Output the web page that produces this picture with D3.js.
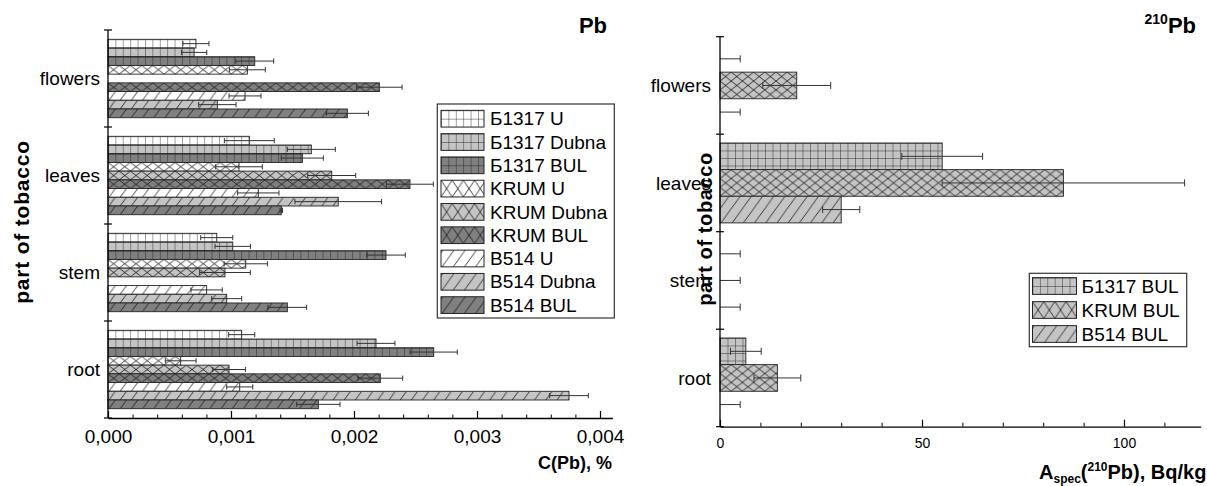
<!DOCTYPE html>
<html>
<head>
<meta charset="utf-8">
<script src="https://cdn.jsdelivr.net/npm/d3@7"></script>
<style>
body { margin:0; background:#fff; }
text { font-family: Arial, "Liberation Sans", sans-serif; fill:#000; }
</style>
</head>
<body>
<svg id="chart" width="1207" height="486"></svg>
<script>
// ---- data ----
var parts = ["flowers","leaves","stem","root"];

var pbSeries = ["Б1317 U","Б1317 Dubna","Б1317 BUL","KRUM U","KRUM Dubna","KRUM BUL","B514 U","B514 Dubna","B514 BUL"];
// C(Pb), %  -> one row per series, columns = flowers, leaves, stem, root (null = no bar)
var pbMean = [
  [0.000715,0.001149,0.000884,0.001087],
  [0.000700,0.001653,0.001014,0.002179],
  [0.001193,0.001580,0.002260,0.002648],
  [0.001133,0.001065,0.001120,0.000591],
  [null,    0.001819,0.000951,0.000984],
  [0.002206,0.002455,null,    0.002214],
  [0.001114,0.001222,0.000802,0.001071],
  [0.000889,0.001872,0.000965,0.003748],
  [0.001946,0.001409,0.001458,0.001710]
];
var pbErr = [
  [0.000106,0.000203,0.000130,0.000106],
  [0.000103,0.000195,0.000144,0.000154],
  [0.000154,0.000171,0.000157,0.000192],
  [0.000146,0.000190,0.000176,0.000125],
  [null,    0.000195,0.000206,0.000133],
  [0.000185,0.000190,null,    0.000182],
  [0.000130,0.000168,0.000127,0.000106],
  [0.000152,0.000352,0.000122,0.000157],
  [0.000171,0.000010,0.000157,0.000176]
];
var pbTicks = [0,0.001,0.002,0.003,0.004];

var actSeries = ["Б1317 BUL","KRUM BUL","B514 BUL"];
// A_spec(210Pb), Bq/kg
var actMean = [
  [0,  55, 0, 6.4],
  [19, 85, 0, 14.2],
  [0,  30, 0, 0]
];
var actErr = [
  [5,   10,  5, 3.8],
  [8.4, 30,  5, 5.8],
  [5,   4.6, 5, 5]
];
var actTicks = [0,50,100];

// ---- styles ----
var pbKind = ["grid","grid","grid","cross","cross","cross","slash","slash","slash"];
var pbTone = ["#ffffff","#c4c4c4","#808080","#ffffff","#c4c4c4","#808080","#ffffff","#c4c4c4","#808080"];
var actKind = ["grid","cross","slash"];
var actTone = "#c4c4c4";

var svg = d3.select("#chart");
var defs = svg.append("defs");

// hatch patterns; origin follows the bar's group so each bar starts clean
function hatch(id, kind, fill, w, h){
  var p = defs.append("pattern").attr("id",id)
    .attr("patternUnits","userSpaceOnUse").attr("width",w).attr("height",h);
  p.append("rect").attr("width",w).attr("height",h).attr("fill",fill);
  var segs = [];
  if(kind=="grid"){
    segs = [[0,0,0,h],[0,0,w,0]];
  } else if(kind=="cross"){
    segs = [[0,0,w,h],[0,h,w,0]];
  } else {
    var run = h*0.72;
    for(var k=-Math.ceil(run/w); k<=1; k++) segs.push([k*w+1,h,k*w+1+run,0]);
  }
  segs.forEach(function(s){
    p.append("line").attr("x1",s[0]).attr("y1",s[1]).attr("x2",s[2]).attr("y2",s[3])
      .attr("stroke","#111").attr("stroke-width",0.8);
  });
  return "url(#"+id+")";
}

function tileW(kind){ return kind=="grid" ? 7.4 : 11.2; }

var comma = d3.formatLocale({decimal:",",thousands:" ",grouping:[3],currency:["",""]}).format(".3f");

// =================== left chart: Pb ===================
var L = {x0:108, x1:612.3, top:30, bottom:418};
var xL = d3.scaleLinear().domain([0,0.0041]).range([L.x0,L.x1]);
var yL = d3.scaleBand().domain(parts).range([L.top,L.bottom]);
var yL1 = d3.scaleBand().domain(d3.range(pbSeries.length)).range([9.3, yL.bandwidth()-9.3]);
var bhL = yL1.bandwidth();

var fillL = pbSeries.map(function(s,i){ return hatch("pl"+i, pbKind[i], pbTone[i], tileW(pbKind[i]), bhL); });
var fillLL = pbSeries.map(function(s,i){
  return hatch("pll"+i, pbKind[i], pbTone[i], tileW(pbKind[i]), pbKind[i]=="grid" ? 8.35 : 16.7);
});

var left = svg.append("g");
var pbBars = [];
pbSeries.forEach(function(s,i){
  parts.forEach(function(p,j){
    if(pbMean[i][j]!=null) pbBars.push({s:i, part:p, v:pbMean[i][j], e:pbErr[i][j]});
  });
});

left.selectAll("g.bar").data(pbBars).enter().append("g").attr("class","bar")
  .attr("transform",function(d){ return "translate("+xL(0)+","+(yL(d.part)+yL1(d.s))+")"; })
  .append("rect")
  .attr("width",function(d){ return xL(d.v)-xL(0); })
  .attr("height",bhL)
  .attr("fill",function(d){ return fillL[d.s]; })
  .attr("stroke","#222").attr("stroke-width",0.9);

function errBars(g, data, x, yOf, cap){
  var e = g.selectAll("g.err").data(data).enter().append("g").attr("class","err")
    .attr("stroke","#333").attr("stroke-width",1);
  e.append("line")
    .attr("x1",function(d){ return x(Math.max(0,d.v-d.e)); })
    .attr("x2",function(d){ return x(d.v+d.e); })
    .attr("y1",yOf).attr("y2",yOf);
  e.append("line")
    .attr("x1",function(d){ return x(d.v+d.e); }).attr("x2",function(d){ return x(d.v+d.e); })
    .attr("y1",function(d){ return yOf(d)-cap; }).attr("y2",function(d){ return yOf(d)+cap; });
  e.filter(function(d){ return d.v-d.e>0; }).append("line")
    .attr("x1",function(d){ return x(d.v-d.e); }).attr("x2",function(d){ return x(d.v-d.e); })
    .attr("y1",function(d){ return yOf(d)-cap; }).attr("y2",function(d){ return yOf(d)+cap; });
}
errBars(left, pbBars, xL, function(d){ return yL(d.part)+yL1(d.s)+bhL/2; }, 2.6);

// x axis
var minorL = d3.range(0,0.00401,0.0002).filter(function(v){ return Math.abs(v*1000-Math.round(v*1000))>1e-6; });
left.append("g").attr("transform","translate(0,"+L.bottom+")")
  .call(d3.axisBottom(xL).tickValues(minorL).tickSize(-3.5).tickSizeOuter(0).tickFormat(""))
  .call(function(g){ g.select(".domain").remove(); g.selectAll("line").attr("stroke","#000"); });
left.append("g").attr("transform","translate(0,"+L.bottom+")")
  .call(d3.axisBottom(xL).tickValues(pbTicks).tickSize(-7).tickSizeOuter(0).tickPadding(12).tickFormat(comma))
  .call(function(g){
    g.select(".domain").attr("stroke","#000").attr("stroke-width",1.3);
    g.selectAll("line").attr("stroke","#000").attr("stroke-width",1.2);
    g.selectAll("text").attr("font-size",19).attr("font-family","Arial, 'Liberation Sans', sans-serif");
  });

// y axis
left.append("line").attr("x1",L.x0).attr("x2",L.x0).attr("y1",L.top).attr("y2",L.bottom)
  .attr("stroke","#000").attr("stroke-width",1.3);
left.selectAll("line.yt").data(parts.map(function(p){ return yL(p); }).concat([L.bottom]))
  .enter().append("line").attr("class","yt")
  .attr("x1",L.x0-4).attr("x2",L.x0+4).attr("y1",function(d){ return d; }).attr("y2",function(d){ return d; })
  .attr("stroke","#000").attr("stroke-width",1.2);
left.selectAll("text.cat").data(parts).enter().append("text").attr("class","cat")
  .attr("x",100).attr("y",function(d){ return yL(d)+yL.bandwidth()/2; }).attr("dy","0.35em")
  .attr("text-anchor","end").attr("font-size",19).text(function(d){ return d; });

left.append("text").attr("transform","translate(29,222) rotate(-90)")
  .attr("text-anchor","middle").attr("font-size",21).attr("letter-spacing",0.8)
  .attr("font-weight","bold").text("part of tobacco");
left.append("text").attr("x",612).attr("y",469).attr("text-anchor","end")
  .attr("font-size",18).attr("font-weight","bold").text("C(Pb), %");
left.append("text").attr("x",607).attr("y",33).attr("text-anchor","end")
  .attr("font-size",22).attr("font-weight","bold").text("Pb");

// legend
var lgL = left.append("g");
lgL.append("rect").attr("x",437.3).attr("y",104).attr("width",177).attr("height",214)
  .attr("fill","#fff").attr("stroke","#333").attr("stroke-width",1.2);
var lgRow = lgL.selectAll("g.row").data(pbSeries).enter().append("g").attr("class","row")
  .attr("transform",function(d,i){ return "translate(441,"+(118.7+23.3*i-8.35)+")"; });
lgRow.append("rect").attr("width",43).attr("height",16.7)
  .attr("fill",function(d,i){ return fillLL[i]; }).attr("stroke","#222").attr("stroke-width",1);
lgRow.append("text").attr("x",49).attr("y",8.35).attr("dy","0.35em").attr("font-size",19)
  .text(function(d){ return d; });

// =================== right chart: 210Pb ===================
var R = {x0:720, top:36.7, bottom:426.7};
var xR = d3.scaleLinear().domain([0,119]).range([R.x0, R.x0+119*4.04]);
var yR = d3.scaleBand().domain(parts).range([R.top,R.bottom]);
var yR1 = d3.scaleBand().domain(d3.range(actSeries.length)).range([8.8, yR.bandwidth()-8.8]);
var bhR = yR1.bandwidth();

var fillR = actSeries.map(function(s,i){
  var k = actKind[i];
  return hatch("pr"+i, k, actTone, k=="grid"?7.5:11.2, k=="grid"?7.5:(k=="cross"?bhR/3:bhR));
});
var fillRL = actSeries.map(function(s,i){
  var k = actKind[i];
  return hatch("prl"+i, k, actTone, tileW(k), k=="grid"?8.35:16.7);
});

var right = svg.append("g");
var actBars = [];
actSeries.forEach(function(s,i){
  parts.forEach(function(p,j){ actBars.push({s:i, part:p, v:actMean[i][j], e:actErr[i][j]}); });
});

right.selectAll("g.bar").data(actBars.filter(function(d){ return d.v>0; })).enter().append("g").attr("class","bar")
  .attr("transform",function(d){ return "translate("+xR(0)+","+(yR(d.part)+yR1(d.s))+")"; })
  .append("rect")
  .attr("width",function(d){ return xR(d.v)-xR(0); })
  .attr("height",bhR)
  .attr("fill",function(d){ return fillR[d.s]; })
  .attr("stroke","#222").attr("stroke-width",0.9);
errBars(right, actBars, xR, function(d){ return yR(d.part)+yR1(d.s)+bhR/2; }, 3.5);

right.append("g").attr("transform","translate(0,"+R.bottom+")")
  .call(d3.axisBottom(xR).tickValues(d3.range(10,120,10).filter(function(v){ return v%50; })).tickSize(-4).tickSizeOuter(0).tickFormat(""))
  .call(function(g){ g.select(".domain").remove(); g.selectAll("line").attr("stroke","#000"); });
right.append("g").attr("transform","translate(0,"+R.bottom+")")
  .call(d3.axisBottom(xR).tickValues(actTicks).tickSize(-7).tickSizeOuter(0).tickPadding(11).tickFormat(d3.format("d")))
  .call(function(g){
    g.select(".domain").attr("stroke","#000").attr("stroke-width",1.3);
    g.selectAll("line").attr("stroke","#000").attr("stroke-width",1.2);
    g.selectAll("text").attr("font-size",14).attr("font-family","Arial, 'Liberation Sans', sans-serif");
  });

right.append("line").attr("x1",R.x0).attr("x2",R.x0).attr("y1",R.top).attr("y2",R.bottom)
  .attr("stroke","#000").attr("stroke-width",1.3);
right.selectAll("line.yt").data(parts.map(function(p){ return yR(p); }).concat([R.bottom]))
  .enter().append("line").attr("class","yt")
  .attr("x1",R.x0-4).attr("x2",R.x0+4).attr("y1",function(d){ return d; }).attr("y2",function(d){ return d; })
  .attr("stroke","#000").attr("stroke-width",1.2);
right.selectAll("text.cat").data(parts).enter().append("text").attr("class","cat")
  .attr("x",711).attr("y",function(d){ return yR(d)+yR.bandwidth()/2; }).attr("dy","0.35em")
  .attr("text-anchor","end").attr("font-size",19).text(function(d){ return d; });

right.append("text").attr("transform","translate(712,229) rotate(-90)")
  .attr("text-anchor","middle").attr("font-size",20).attr("letter-spacing",0.6)
  .attr("font-weight","bold").text("part of tobacco");

var t210 = right.append("text").attr("x",1196).attr("y",33).attr("text-anchor","end").attr("font-weight","bold");
t210.append("tspan").attr("font-size",14).attr("dy",-9).text("210");
t210.append("tspan").attr("font-size",22).attr("dy",9).text("Pb");

var xlab = right.append("text").attr("x",1039).attr("y",479).attr("font-weight","bold").attr("font-size",20);
xlab.append("tspan").text("A");
xlab.append("tspan").attr("font-size",12).attr("dy",4).text("spec");
xlab.append("tspan").attr("dy",-4).text("(");
xlab.append("tspan").attr("font-size",12).attr("dy",-8).text("210");
xlab.append("tspan").attr("dy",8).text("Pb), Bq/kg");

var lgR = right.append("g");
lgR.append("rect").attr("x",1029.3).attr("y",273.3).attr("width",157.4).attr("height",73.4)
  .attr("fill","#fff").attr("stroke","#333").attr("stroke-width",1.2);
var lgRRow = lgR.selectAll("g.row").data(actSeries).enter().append("g").attr("class","row")
  .attr("transform",function(d,i){ return "translate(1032.5,"+(286+24*i-8.35)+")"; });
lgRRow.append("rect").attr("width",44).attr("height",16.7)
  .attr("fill",function(d,i){ return fillRL[i]; }).attr("stroke","#222").attr("stroke-width",1);
lgRRow.append("text").attr("x",49).attr("y",8.35).attr("dy","0.35em").attr("font-size",19)
  .text(function(d){ return d; });
</script>
</body>
</html>
